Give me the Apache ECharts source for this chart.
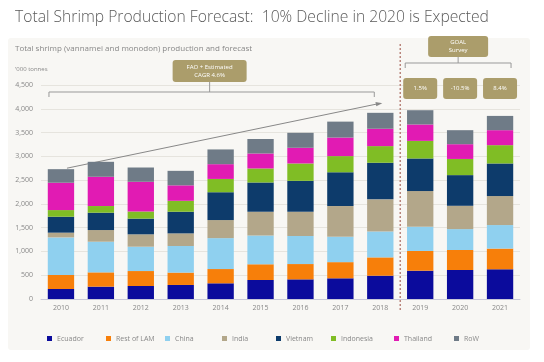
<!DOCTYPE html>
<html><head><meta charset="utf-8">
<script src="https://cdn.jsdelivr.net/npm/echarts@6/dist/echarts.min.js"></script>
<style>html,body{margin:0;padding:0;background:#fff}#c{width:544px;height:362px}</style>
</head><body><div id="c"></div>
<script>
const years = ['2010','2011','2012','2013','2014','2015','2016','2017','2018','2019','2020','2021'];
const ecuador   = [210,260,273,295,330,400,413,435,490,595,610,625];
const restLAM   = [295,300,315,260,300,330,322,340,385,415,420,435];
const china     = [790,645,512,560,650,605,590,535,545,510,440,495];
const india     = [100,245,260,265,380,500,510,645,675,750,490,610];
const vietnam   = [335,365,330,455,585,615,650,710,770,685,645,685];
const indonesia = [140,140,150,230,280,295,365,340,350,370,340,385];
const thailand  = [575,615,625,325,310,315,330,390,365,345,310,315];
const row       = [285,315,300,305,310,305,315,335,335,300,295,300];
const seriesNames = ['Ecuador','Rest of LAM','China','India','Vietnam','Indonesia','Thailand','RoW'];
const seriesData = [ecuador,restLAM,china,india,vietnam,indonesia,thailand,row];
const colors = ['#0b0b9c','#f77f0a','#8fd0ef','#b3a78a','#0d3b6b','#80bd25','#e11bb3','#6f7b87'];
const growthLabels = ['1.5%','-10.5%','8.4%'];
const legendX = [42,101,160,217,271,326,389,449];

const chart = echarts.init(document.getElementById('c'));
const FONT = 'Open Sans';
const series = seriesNames.map((n,i)=>({
  name:n, type:'bar', stack:'t', data:seriesData[i], barWidth:'66%',
  itemStyle:{color:colors[i]}
}));
const legends = seriesNames.map((n,i)=>({
  data:[n], left:legendX[i], top:330, itemWidth:5, itemHeight:5, icon:'rect',
  textStyle:{fontFamily:FONT,fontSize:7,color:'#888'}, itemGap:3
}));
chart.setOption({
  animation:false,
  backgroundColor:'#fff',
  color:colors,
  grid:{left:41,right:24,top:85,bottom:63},
  legend:legends,
  xAxis:{type:'category',data:years,
    axisLine:{lineStyle:{color:'#c8c8d8'}},axisTick:{show:false},
    axisLabel:{fontFamily:FONT,fontSize:7,color:'#888',margin:5}},
  yAxis:{type:'value',min:0,max:4500,interval:500,
    axisLabel:{fontFamily:FONT,fontSize:7,color:'#888',margin:8,
      formatter:v=>v.toLocaleString('en-US')},
    splitLine:{lineStyle:{color:'#e6e4de'}}},
  series:series
});

function px(cat,val){return chart.convertToPixel({xAxisIndex:0,yAxisIndex:0},[cat,val]);}
const totals = years.map((_,j)=>seriesData.reduce((s,a)=>s+a[j],0));
const p0 = px(0,0), p8 = px(8,0), p9 = px(9,0), p11 = px(11,0);
const half = (p9[0]-p8[0])/2;
const divX = p8[0]+half;
const boxColor = '#ab9d6b';
const g = [];
// title sized to span the same width as the reference
const titleText = 'Total Shrimp Production Forecast:  10% Decline in 2020 is Expected';
const cv = document.createElement('canvas').getContext('2d');
cv.font = '300 20px "Open Sans"';
const tw = cv.measureText(titleText).width;
const tSize = Math.min(20, 20*474/tw);
g.push({type:'rect',shape:{x:8,y:38,width:522,height:312,r:3},style:{fill:'#f8f7f4'},z:-10});
g.push({type:'text',left:15,top:10,style:{text:titleText,font:'300 '+tSize.toFixed(2)+'px "Open Sans"',fill:'#5a5a5a'}});
g.push({type:'text',left:15,top:45,style:{text:'Total shrimp (vannamei and monodon) production and forecast',font:'8px "Open Sans"',fill:'#888'}});
g.push({type:'text',left:15,top:66,style:{text:"'000 tonnes",font:'6px "Open Sans"',fill:'#888'}});
g.push({type:'line',shape:{x1:divX,y1:44,x2:divX,y2:312},style:{stroke:'#b9857c',lineWidth:1.5,lineDash:[2,2]},z:10});
const bx1 = p0[0]-12, bx2 = p8[0]-6, by = 92;
g.push({type:'polyline',shape:{points:[[bx1,by+5],[bx1,by],[bx2,by],[bx2,by+5]]},style:{stroke:'#999',lineWidth:1,fill:null}});
const bmid = (bx1+bx2)/2-2;
g.push({type:'line',shape:{x1:bmid,y1:82,x2:bmid,y2:by},style:{stroke:'#999',lineWidth:1}});
g.push({type:'rect',shape:{x:bmid-37,y:60,width:74,height:22,r:3},style:{fill:boxColor}});
g.push({type:'text',x:bmid,y:71,style:{text:'FAO + Estimated\nCAGR 4.6%',font:'6px "Open Sans"',fill:'#fff',align:'center',verticalAlign:'middle',lineHeight:8}});
const a1 = px(0,totals[0]); const a2 = px(8,totals[8]+200);
g.push({type:'line',shape:{x1:a1[0]+6,y1:a1[1]-1,x2:a2[0],y2:a2[1]},style:{stroke:'#888',lineWidth:1}});
const ang = Math.atan2(a2[1]-a1[1]+1, a2[0]-a1[0]-6);
const ah = 5;
g.push({type:'polygon',shape:{points:[[a2[0]+2,a2[1]],[a2[0]-ah*Math.cos(ang-0.45),a2[1]-ah*Math.sin(ang-0.45)],[a2[0]-ah*Math.cos(ang+0.45),a2[1]-ah*Math.sin(ang+0.45)]]},style:{fill:'#888'}});
const gx1 = p9[0]-15, gx2 = p11[0]+11, gy = 63;
const gmid = (gx1+gx2)/2;
g.push({type:'polyline',shape:{points:[[gx1,gy+5],[gx1,gy],[gx2,gy],[gx2,gy+5]]},style:{stroke:'#999',lineWidth:1,fill:null}});
g.push({type:'line',shape:{x1:gmid,y1:57,x2:gmid,y2:gy},style:{stroke:'#999',lineWidth:1}});
g.push({type:'rect',shape:{x:gmid-30,y:36,width:60,height:21,r:3},style:{fill:boxColor}});
g.push({type:'text',x:gmid,y:46.5,style:{text:'GOAL\nSurvey',font:'6px "Open Sans"',fill:'#fff',align:'center',verticalAlign:'middle',lineHeight:8}});
for(let k=0;k<3;k++){
  const c = px(9+k,0)[0];
  g.push({type:'rect',shape:{x:c-17,y:78,width:34,height:21,r:3},style:{fill:boxColor}});
  g.push({type:'text',x:c,y:88.5,style:{text:growthLabels[k],font:'6px "Open Sans"',fill:'#fff',align:'center',verticalAlign:'middle'}});
}
chart.setOption({graphic:g});
</script></body></html>
